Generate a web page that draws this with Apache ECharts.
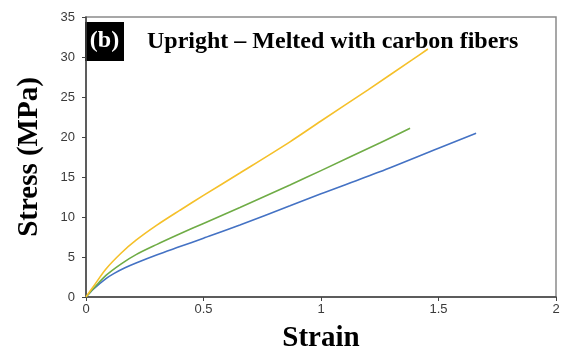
<!DOCTYPE html>
<html><head><meta charset="utf-8">
<script src="https://cdn.jsdelivr.net/npm/echarts@6/dist/echarts.min.js"></script>
<style>html,body{margin:0;padding:0;background:#fff}#c{width:564px;height:352px}</style>
</head><body><div id="c"></div>
<script>
var xTicks = [0, 0.5, 1, 1.5, 2];
var yTicks = [0, 5, 10, 15, 20, 25, 30, 35];
var yellowStrain = [0, 0.03, 0.085, 0.15, 0.213, 0.3, 0.4, 0.5, 0.655, 0.868, 1.0, 1.2, 1.386, 1.455];
var yellowStress = [0, 1.25, 3.5, 5.5, 7.1, 8.95, 10.85, 12.7, 15.5, 19.4, 22.0, 25.9, 29.6, 31.0];
var greenStrain = [0, 0.03, 0.085, 0.15, 0.213, 0.3, 0.4, 0.5, 0.655, 0.868, 1.0, 1.25, 1.379];
var greenStress = [0, 1.0, 2.7, 4.15, 5.3, 6.55, 7.9, 9.2, 11.2, 14.0, 15.8, 19.25, 21.1];
var blueStrain = [0, 0.03, 0.085, 0.12, 0.166, 0.213, 0.3, 0.4, 0.5, 0.655, 0.868, 1.0, 1.25, 1.5, 1.66];
var blueStress = [0, 0.95, 2.3, 2.95, 3.65, 4.25, 5.25, 6.3, 7.35, 9.0, 11.4, 12.9, 15.65, 18.6, 20.46];

function zip(a, b) { return a.map(function (v, i) { return [v, b[i]]; }); }

var chart = echarts.init(document.getElementById('c'));
var labelStyle = { color: '#3a3a3a', fontFamily: 'Liberation Sans, Arial', fontSize: 13 };
var nameStyle = { fontFamily: 'Liberation Serif, Times New Roman', fontWeight: 'bold', fontSize: 29, color: '#000' };
chart.setOption({
  animation: false,
  grid: { left: 86, right: 8, top: 17, bottom: 55, outerBoundsMode: 'none', containLabel: false, show: true, borderColor: '#8a8a8a', borderWidth: 1.5, backgroundColor: 'transparent' },
  xAxis: {
    type: 'value', min: xTicks[0], max: xTicks[xTicks.length - 1], interval: 0.5,
    name: 'Strain', nameLocation: 'middle', nameGap: 27, nameTextStyle: nameStyle,
    axisLine: { show: true, lineStyle: { color: '#444', width: 1.5 } },
    axisTick: { show: true, inside: false, length: 4, lineStyle: { color: '#444', width: 1 } },
    axisLabel: Object.assign({ margin: 6 }, labelStyle),
    splitLine: { show: false }
  },
  yAxis: {
    type: 'value', min: yTicks[0], max: yTicks[yTicks.length - 1], interval: 5,
    name: 'Stress (MPa)', nameLocation: 'middle', nameGap: 42, nameTextStyle: nameStyle,
    axisLine: { show: true, lineStyle: { color: '#444', width: 1.5 } },
    axisTick: { show: true, inside: false, length: 4, lineStyle: { color: '#444', width: 1 } },
    axisLabel: Object.assign({ margin: 11 }, labelStyle),
    splitLine: { show: false }
  },
  graphic: [
    { type: 'rect', left: 85, top: 22, shape: { width: 39, height: 39 }, style: { fill: '#000' } },
    { type: 'text', x: 104.5, y: 41, style: { text: '(b)', fill: '#fff', align: 'center', verticalAlign: 'middle', font: 'bold 24px "Liberation Serif", "Times New Roman"' } },
    { type: 'text', x: 147, y: 42, style: { text: 'Upright \u2013 Melted with carbon fibers', fill: '#000', align: 'left', verticalAlign: 'middle', font: 'bold 24px "Liberation Serif", "Times New Roman"' } }
  ],
  series: [
    { type: 'line', data: zip(blueStrain, blueStress), showSymbol: false, smooth: 0.3, lineStyle: { color: '#4472C4', width: 1.6 }, z: 3 },
    { type: 'line', data: zip(greenStrain, greenStress), showSymbol: false, smooth: 0.3, lineStyle: { color: '#6FAC46', width: 1.6 }, z: 3 },
    { type: 'line', data: zip(yellowStrain, yellowStress), showSymbol: false, smooth: 0.3, lineStyle: { color: '#F5C02A', width: 1.6 }, z: 3 }
  ]
});
</script></body></html>
